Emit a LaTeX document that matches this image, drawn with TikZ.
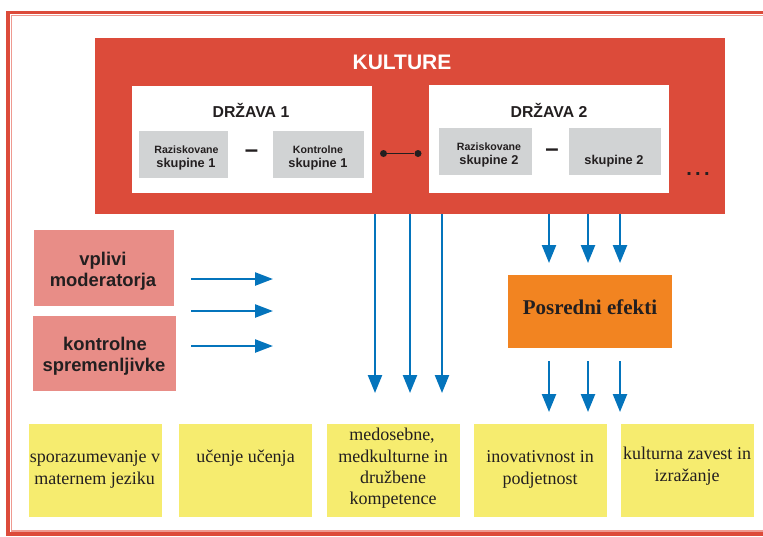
\documentclass[tikz,border=0pt]{standalone}
\usepackage{fontspec}
\setmainfont{Liberation Serif}
\setsansfont{Liberation Sans}
\usetikzlibrary{arrows.meta}
\definecolor{kred}{HTML}{DC4B3A}
\definecolor{kpinkline}{HTML}{EE9A90}
\definecolor{kpink}{HTML}{E88D87}
\definecolor{kgray}{HTML}{D1D3D4}
\definecolor{kyellow}{HTML}{F6EC6F}
\definecolor{korange}{HTML}{F28421}
\definecolor{ablue}{HTML}{0474BC}
\definecolor{ink}{HTML}{231F20}
\begin{document}
\begin{tikzpicture}[x=1pt,y=-1pt,
  fillbox/.style={draw=none, inner sep=0, anchor=north west},
  lbl/.style={text=ink, inner sep=0, anchor=base},
  hd/.style={lbl, font=\sffamily\bfseries\fontsize{15.8}{18}\selectfont},
  smallsf/.style={lbl, font=\sffamily\bfseries\fontsize{10.6}{12}\selectfont},
  midsf/.style={lbl, font=\sffamily\bfseries\fontsize{12.8}{15}\selectfont},
  pinksf/.style={lbl, font=\sffamily\bfseries\fontsize{18.4}{21}\selectfont},
  ylw/.style={lbl, font=\rmfamily\fontsize{18}{21.7}\selectfont},
  dashsign/.style={lbl, anchor=center, font=\sffamily\bfseries\fontsize{24}{26}\selectfont},
  varr/.style={draw=ablue, line width=2.4pt, -{Triangle[length=18pt,width=14pt]}},
  harr/.style={draw=ablue, line width=2.4pt, -{Triangle[length=18pt,width=13pt]}},
]
\useasboundingbox (0,0) rectangle (763,536);
% outer frame
\draw[kred, line width=3.5] (8,12.5) rectangle (780,534);
\draw[kpinkline, line width=1.2] (11.2,15.6) rectangle (780,531);

% KULTURE block
\node[fillbox, fill=kred, minimum width=630, minimum height=176] (kult) at (95,38) {};
\node[lbl, text=white, font=\sffamily\bfseries\fontsize{21}{25}\selectfont] (kultt) at (402,69) {KULTURE};

\node[fillbox, fill=white, minimum width=240, minimum height=107] (d1) at (132,86) {};
\node[hd] (d1t) at (251,117) {DRŽAVA 1};
\node[fillbox, fill=kgray, minimum width=89, minimum height=47] (r1) at (139,131) {};
\node[smallsf] (r1a) at (186.5,153.5) {Raziskovane};
\node[midsf] (r1b) at (186,167) {skupine 1};
\node[fillbox, fill=kgray, minimum width=91, minimum height=47] (k1) at (273,131) {};
\node[smallsf] (k1a) at (318,153.5) {Kontrolne};
\node[midsf] (k1b) at (318,167) {skupine 1};
\node[dashsign] (m1) at (251.5,153.5) {–};

\node[fillbox, fill=white, minimum width=240, minimum height=108] (d2) at (429,85) {};
\node[hd] (d2t) at (549,117) {DRŽAVA 2};
\node[fillbox, fill=kgray, minimum width=93, minimum height=47] (r2) at (439,128) {};
\node[smallsf] (r2a) at (489,150) {Raziskovane};
\node[midsf] (r2b) at (489,164) {skupine 2};
\node[fillbox, fill=kgray, minimum width=92, minimum height=47] (k2) at (569,128) {};
\node[midsf] (k2b) at (614,164) {skupine 2};
\node[dashsign] (m2) at (552,152.5) {–};

\node[lbl, font=\sffamily\bfseries\fontsize{20}{22}\selectfont] (dots) at (698,175) {.\,.\,.};

% state connector
\node[circle, fill=ink, inner sep=0, minimum size=7] (dt1) at (383.5,153.5) {};
\node[circle, fill=ink, inner sep=0, minimum size=7] (dt2) at (418,153.5) {};
\draw[ink, line width=1.5] (dt1) -- (dt2);

% pink boxes
\node[fillbox, fill=kpink, minimum width=140, minimum height=76] (p1) at (34,230) {};
\node[pinksf] (p1a) at (103,265.7) {vplivi};
\node[pinksf] (p1b) at (103,286.7) {moderatorja};
\node[fillbox, fill=kpink, minimum width=143, minimum height=75] (p2) at (33,316) {};
\node[pinksf] (p2a) at (105,350.7) {kontrolne};
\node[pinksf] (p2b) at (104,371.7) {spremenljivke};

% horizontal arrows
\coordinate (h1s) at (191,279); \coordinate (h1e) at (273,279);
\coordinate (h2s) at (191,311); \coordinate (h2e) at (273,311);
\coordinate (h3s) at (191,346); \coordinate (h3e) at (273,346);
\draw[harr] (h1s) -- (h1e);
\draw[harr] (h2s) -- (h2e);
\draw[harr] (h3s) -- (h3e);

% Posredni efekti
\node[fillbox, fill=korange, minimum width=164, minimum height=73] (pos) at (508,275) {};
\node[lbl, font=\rmfamily\bfseries\fontsize{21}{25}\selectfont] (post) at (590,314) {Posredni efekti};

% yellow boxes
\node[fillbox, fill=kyellow, minimum width=133, minimum height=93] (y1) at (29,424) {};
\node[fillbox, fill=kyellow, minimum width=133, minimum height=93] (y2) at (179,424) {};
\node[fillbox, fill=kyellow, minimum width=133, minimum height=93] (y3) at (327,424) {};
\node[fillbox, fill=kyellow, minimum width=133, minimum height=93] (y4) at (474,424) {};
\node[fillbox, fill=kyellow, minimum width=133, minimum height=93] (y5) at (621,424) {};

\node[ylw] (y1a) at (95,462.7) {sporazumevanje v};
\node[ylw] (y1b) at (94.7,484.3) {maternem jeziku};
\node[ylw] (y2a) at (245.5,462.7) {učenje učenja};
\node[ylw] (y3a) at (392,440.7) {medosebne,};
\node[ylw] (y3b) at (393,462.7) {medkulturne in};
\node[ylw] (y3c) at (393,483.5) {družbene};
\node[ylw] (y3d) at (393,504.5) {kompetence};
\node[ylw] (y4a) at (540,462.7) {inovativnost in};
\node[ylw] (y4b) at (540,484.3) {podjetnost};
\node[ylw] (y5a) at (687,459.3) {kulturna zavest in};
\node[ylw] (y5b) at (687,481) {izražanje};

% vertical arrows from KULTURE to competences
\coordinate (v1) at (375,393);
\coordinate (v2) at (410,393);
\coordinate (v3) at (442,393);
\draw[varr] (kult.south -| v1) -- (v1);
\draw[varr] (kult.south -| v2) -- (v2);
\draw[varr] (kult.south -| v3) -- (v3);

% arrows into Posredni efekti
\draw[varr, shorten >=12pt] (kult.south -| 549,0) -- (pos.north -| 549,0);
\draw[varr, shorten >=12pt] (kult.south -| 588,0) -- (pos.north -| 588,0);
\draw[varr, shorten >=12pt] (kult.south -| 620,0) -- (pos.north -| 620,0);

% arrows out of Posredni efekti
\coordinate (q1) at (549,412);
\coordinate (q2) at (588,412);
\coordinate (q3) at (620,412);
\draw[varr, shorten <=13pt] (pos.south -| q1) -- (q1);
\draw[varr, shorten <=13pt] (pos.south -| q2) -- (q2);
\draw[varr, shorten <=13pt] (pos.south -| q3) -- (q3);
\end{tikzpicture}
\end{document}
